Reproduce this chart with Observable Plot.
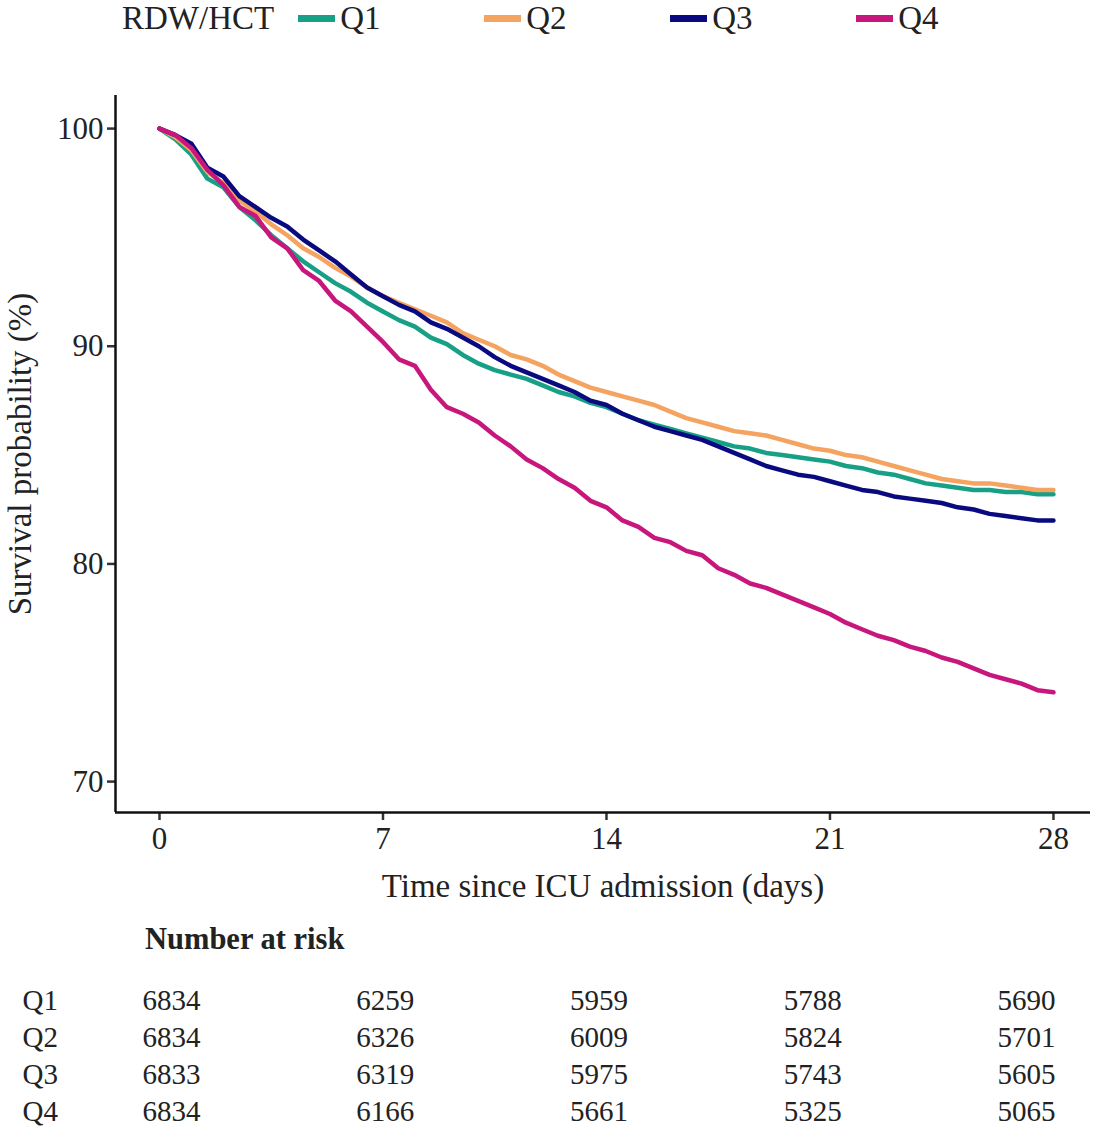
<!DOCTYPE html>
<html>
<head>
<meta charset="utf-8">
<script src="https://cdn.jsdelivr.net/npm/d3@7"></script>
<script src="https://cdn.jsdelivr.net/npm/@observablehq/plot@0.6"></script>
<style>
  html, body { margin: 0; padding: 0; background: #fff; }
  body { width: 1114px; height: 1140px; position: relative; font-family: "Liberation Serif", "Times New Roman", serif; color: #222; }
  #legend { position: absolute; left: 122px; top: -2px; height: 40px; display: flex; align-items: center; font-size: 33px; }
  #legend .title { margin-right: 24px; }
  #legend .item { display: flex; align-items: center; width: 186px; }
  #legend .sw { width: 37px; height: 7px; margin-right: 5px; }
  #main { position: absolute; left: 0; top: 60px; }
  #risk { position: absolute; left: 0; top: 910px; }
  #risktitle { position: absolute; left: 145px; top: 922px; font-size: 30.5px; font-weight: bold; z-index: 2; }
</style>
</head>
<body>
<div id="legend"></div>
<div id="main"></div>
<div id="risk"></div>
<div id="risktitle">Number at risk</div>
<script>
// ---- data ----
const groups = ["Q1", "Q2", "Q3", "Q4"];
const colors = ["#17a085", "#f4a460", "#0a0a80", "#c8177c"];
const days = [0,0.5,1,1.5,2,2.5,3,3.5,4,4.5,5,5.5,6,6.5,7,7.5,8,8.5,9,9.5,10,10.5,11,11.5,12,12.5,13,13.5,14,14.5,15,15.5,16,16.5,17,17.5,18,18.5,19,19.5,20,20.5,21,21.5,22,22.5,23,23.5,24,24.5,25,25.5,26,26.5,27,27.5,28];
const survQ1 = [100,99.5,98.8,97.7,97.3,96.4,95.8,95.1,94.5,93.9,93.4,92.9,92.5,92.0,91.6,91.2,90.9,90.4,90.1,89.6,89.2,88.9,88.7,88.5,88.2,87.9,87.7,87.4,87.2,86.9,86.6,86.4,86.2,86.0,85.8,85.6,85.4,85.3,85.1,85.0,84.9,84.8,84.7,84.5,84.4,84.2,84.1,83.9,83.7,83.6,83.5,83.4,83.4,83.3,83.3,83.2,83.2];
const survQ2 = [100,99.6,99.0,98.0,97.5,96.7,96.2,95.6,95.1,94.5,94.1,93.6,93.2,92.7,92.3,92.0,91.7,91.4,91.1,90.6,90.3,90.0,89.6,89.4,89.1,88.7,88.4,88.1,87.9,87.7,87.5,87.3,87.0,86.7,86.5,86.3,86.1,86.0,85.9,85.7,85.5,85.3,85.2,85.0,84.9,84.7,84.5,84.3,84.1,83.9,83.8,83.7,83.7,83.6,83.5,83.4,83.4];
const survQ3 = [100,99.7,99.3,98.2,97.8,96.9,96.4,95.9,95.5,94.9,94.4,93.9,93.3,92.7,92.3,91.9,91.6,91.1,90.8,90.4,90.0,89.5,89.1,88.8,88.5,88.2,87.9,87.5,87.3,86.9,86.6,86.3,86.1,85.9,85.7,85.4,85.1,84.8,84.5,84.3,84.1,84.0,83.8,83.6,83.4,83.3,83.1,83.0,82.9,82.8,82.6,82.5,82.3,82.2,82.1,82.0,82.0];
const survQ4 = [100,99.7,99.1,98.1,97.4,96.4,96.0,95.0,94.5,93.5,93.0,92.1,91.6,90.9,90.2,89.4,89.1,88.0,87.2,86.9,86.5,85.9,85.4,84.8,84.4,83.9,83.5,82.9,82.6,82.0,81.7,81.2,81.0,80.6,80.4,79.8,79.5,79.1,78.9,78.6,78.3,78.0,77.7,77.3,77.0,76.7,76.5,76.2,76.0,75.7,75.5,75.2,74.9,74.7,74.5,74.2,74.1];
const xTicks = [0, 7, 14, 21, 28];
const yTicks = [70, 80, 90, 100];
const riskTimes = [0, 7, 14, 21, 28];
const riskQ1 = [6834, 6259, 5959, 5788, 5690];
const riskQ2 = [6834, 6326, 6009, 5824, 5701];
const riskQ3 = [6833, 6319, 5975, 5743, 5605];
const riskQ4 = [6834, 6166, 5661, 5325, 5065];

// ---- build tables ----
const survAll = [survQ1, survQ2, survQ3, survQ4];
const curves = [];
groups.forEach((g, gi) => days.forEach((d, i) => curves.push({group: g, day: d, surv: survAll[gi][i]})));
const riskAll = [riskQ1, riskQ2, riskQ3, riskQ4];
const risk = [];
groups.forEach((g, gi) => riskTimes.forEach((t, i) => risk.push({group: g, time: t, n: riskAll[gi][i]})));

const xDomain = [-1.378, 29.16];
const yDomain = [68.58, 101.52];
const font = "Liberation Serif, Times New Roman, serif";

// ---- legend ----
const leg = document.getElementById("legend");
leg.innerHTML = `<span class="title">RDW/HCT</span>` + groups.map((g, i) =>
  `<span class="item"><span class="sw" style="background:${colors[i]}"></span><span>${g}</span></span>`).join("");

// ---- main chart ----
const main = Plot.plot({
  width: 1114,
  height: 850,
  marginLeft: 115,
  marginRight: 24,
  marginTop: 35,
  marginBottom: 98,
  style: {fontFamily: font, fontSize: "31px", color: "#222", background: "white"},
  x: {domain: xDomain, ticks: xTicks},
  y: {domain: yDomain, ticks: yTicks},
  color: {domain: groups, range: colors},
  marks: [
    Plot.axisX({ticks: xTicks, tickSize: 8, tickPadding: 6, strokeWidth: 2.5, stroke: "#333", fontSize: 31, fill: "#222", label: null}),
    Plot.axisX({ticks: [], label: "Time since ICU admission (days)", labelAnchor: "center", labelArrow: "none", labelOffset: 84, fontSize: 33, fill: "#222"}),
    Plot.axisY({ticks: yTicks, tickSize: 8, tickPadding: 4, strokeWidth: 2.5, stroke: "#333", fontSize: 31, fill: "#222", label: null}),
    Plot.axisY({ticks: [], label: "Survival probability (%)", labelAnchor: "center", labelArrow: "none", labelOffset: 108, fontSize: 33, fill: "#222"}),
    Plot.ruleX([xDomain[0]], {stroke: "#111", strokeWidth: 2.5}),
    Plot.ruleY([yDomain[0]], {stroke: "#111", strokeWidth: 2.5}),
    Plot.line(curves, {x: "day", y: "surv", z: "group", stroke: "group", strokeWidth: 4.5, curve: "linear", strokeLinejoin: "round", strokeLinecap: "round"})
  ]
});
document.getElementById("main").appendChild(main);

// ---- risk table ----
const riskPlot = Plot.plot({
  width: 1114,
  height: 230,
  marginLeft: 171,
  marginRight: 88,
  marginTop: 90,
  marginBottom: 29,
  style: {fontFamily: font, fontSize: "29px", color: "#222", background: "transparent"},
  x: {domain: [0, 28], axis: null},
  y: {type: "point", domain: groups, padding: 0, axis: null},
  marks: [
    Plot.text(risk, {x: "time", y: "group", text: d => String(d.n), fontSize: 29, fill: "#222", textAnchor: "middle"}),
    Plot.text(groups, {y: d => d, frameAnchor: "left", dx: -149, text: d => d, fontSize: 29, fill: "#222", textAnchor: "start"})
  ]
});
document.getElementById("risk").appendChild(riskPlot);
</script>
</body>
</html>
